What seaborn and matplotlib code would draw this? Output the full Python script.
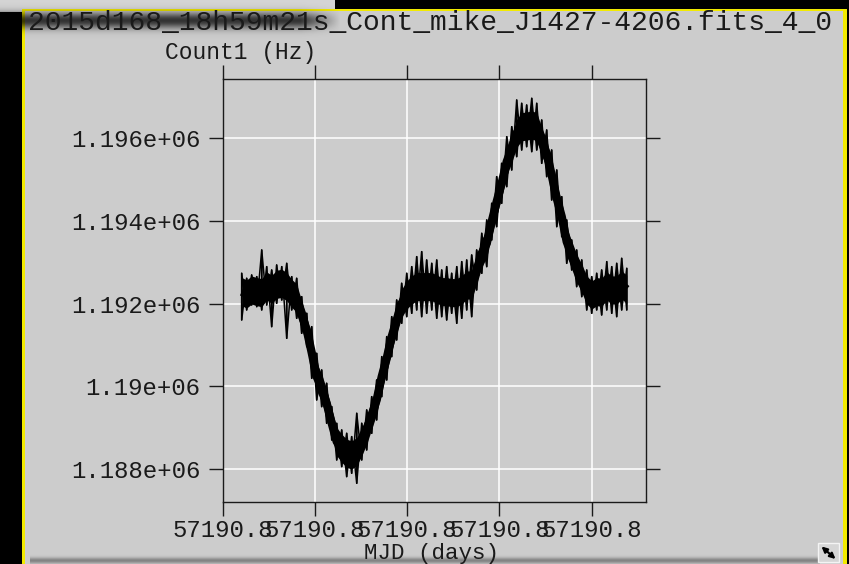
import numpy as np
import pandas as pd
import matplotlib
matplotlib.use("Agg")
import matplotlib.pyplot as plt
import seaborn as sns
from matplotlib.patches import Rectangle
from matplotlib.ticker import FixedLocator, FuncFormatter

# ---- light curve sampled along MJD ----
mjd = [
    57190.78206, 57190.78260, 57190.78314, 57190.78369, 57190.78423, 57190.78477,
    57190.78531, 57190.78585, 57190.78640, 57190.78694, 57190.78748, 57190.78802,
    57190.78856, 57190.78911, 57190.78965, 57190.79019, 57190.79073, 57190.79127,
    57190.79182, 57190.79236, 57190.79290, 57190.79344, 57190.79398, 57190.79453,
    57190.79507, 57190.79561, 57190.79615, 57190.79669, 57190.79724, 57190.79778,
    57190.79832, 57190.79886, 57190.79940, 57190.79995, 57190.80049, 57190.80103,
    57190.80157, 57190.80211, 57190.80266, 57190.80320, 57190.80374, 57190.80428,
    57190.80482, 57190.80537, 57190.80591, 57190.80645, 57190.80699, 57190.80753,
    57190.80808, 57190.80862, 57190.80916, 57190.80970, 57190.81024, 57190.81079,
    57190.81133, 57190.81187, 57190.81241, 57190.81295, 57190.81350, 57190.81404,
    57190.81458, 57190.81512, 57190.81566, 57190.81621, 57190.81675, 57190.81729,
    57190.81783, 57190.81837, 57190.81892, 57190.81946, 57190.82000, 57190.82054,
    57190.82108, 57190.82163, 57190.82217, 57190.82271, 57190.82325, 57190.82380,
]
# running level of the count rate
count_mid = [
    1192291, 1192235, 1192331, 1192291, 1192267, 1192428, 1192348, 1192468, 1192493,
    1192412, 1192251, 1192130, 1191727, 1191364, 1190816, 1190235, 1189953, 1189590,
    1189106, 1188663, 1188502, 1188381, 1188340, 1188421, 1188663, 1188945, 1189308,
    1189671, 1190235, 1190679, 1191203, 1191606, 1192009, 1192211, 1192331, 1192412,
    1192412, 1192412, 1192412, 1192356, 1192291, 1192291, 1192267, 1192267, 1192331,
    1192452, 1192452, 1192815, 1193218, 1193460, 1193984, 1194468, 1194912, 1195436,
    1195758, 1196121, 1196282, 1196298, 1196323, 1196282, 1195920, 1195637, 1195113,
    1194549, 1194105, 1193501, 1193178, 1192855, 1192614, 1192331, 1192211, 1192291,
    1192275, 1192428, 1192331, 1192331, 1192452, 1192348,
]
# highest / lowest samples around each time (noise extremes)
count_hi = [
    1192735, 1192614, 1192694, 1192654, 1193299, 1192896, 1192815, 1192936, 1192896,
    1192976, 1192654, 1192614, 1192170, 1191767, 1191444, 1190799, 1190396, 1190074,
    1189509, 1189106, 1188945, 1188864, 1188784, 1189348, 1189106, 1189429, 1189751,
    1190154, 1190719, 1191203, 1191686, 1192089, 1192493, 1192735, 1192896, 1193138,
    1193259, 1193057, 1192976, 1193057, 1192815, 1192896, 1192735, 1192896, 1193017,
    1193057, 1193178, 1193299, 1193702, 1194025, 1194428, 1195073, 1195395, 1196040,
    1196282, 1196927, 1196847, 1196806, 1196968, 1196847, 1196443, 1196202, 1195718,
    1195234, 1194589, 1194025, 1193541, 1193299, 1193057, 1192815, 1192654, 1192735,
    1192815, 1193017, 1192896, 1192976, 1193097, 1192855,
]
count_lo = [
    1191606, 1191848, 1191969, 1191928, 1191848, 1191969, 1191444, 1192009, 1192089,
    1191162, 1191848, 1191646, 1191283, 1190961, 1190195, 1189671, 1189509, 1189106,
    1188703, 1188219, 1188058, 1187816, 1187897, 1187655, 1188219, 1188461, 1188864,
    1189187, 1189751, 1190154, 1190719, 1191122, 1191525, 1191686, 1191767, 1191848,
    1191686, 1191767, 1191848, 1191646, 1191686, 1191606, 1191767, 1191525, 1191646,
    1191848, 1191686, 1192331, 1192735, 1192896, 1193541, 1193863, 1194428, 1194831,
    1195234, 1195557, 1195718, 1195798, 1195678, 1195718, 1195395, 1195073, 1194508,
    1193863, 1193621, 1192976, 1192815, 1192412, 1192170, 1191848, 1191767, 1191848,
    1191727, 1191848, 1191767, 1191686, 1191848, 1191848,
]
# typical scatter of the bulk of samples about the running level
core_spread_hz = 340

x_ticks = [57190.78, 57190.79, 57190.80, 57190.81, 57190.82]
y_ticks = [1188000, 1190000, 1192000, 1194000, 1196000]

title_text = "2015d168_18h59m21s_Cont_mike_J1427-4206.fits_4_0"
y_label = "Count1 (Hz)"
x_label = "MJD (days)"

BG = "#cccccc"
INK = "#1a1a1a"
MONO = ["Liberation Mono", "DejaVu Sans Mono"]

# two sweeps through the extremes (low->high and high->low) fill the noise band
rows = []
for t, lo, hi in zip(mjd, count_lo, count_hi):
    rows += [("a", t, lo), ("a", t, hi), ("b", t, hi), ("b", t, lo)]
df = pd.DataFrame(rows, columns=["sweep", "mjd", "count"])
df = pd.concat([df[df.sweep == "a"], df[df.sweep == "b"]], ignore_index=True)
mid_df = pd.DataFrame({"mjd": mjd, "count": count_mid})

sns.set_style("ticks", {"axes.facecolor": BG, "figure.facecolor": BG})
plt.rcParams["font.family"] = MONO

fig = plt.figure(figsize=(8.49, 5.64), dpi=100, facecolor=BG)

# window chrome, in pixel coordinates
deco = fig.add_axes([0, 0, 1, 1], zorder=-1)
deco.set_xlim(0, 849)
deco.set_ylim(564, 0)
deco.axis("off")
deco.add_patch(Rectangle((0, 0), 335, 11, color="#d4d4d4", lw=0))
deco.add_patch(Rectangle((335, 0), 514, 8.5, color="black", lw=0))
deco.add_patch(Rectangle((0, 12), 22.5, 552, color="black", lw=0))
deco.add_patch(Rectangle((22.5, 8.5), 826.5, 2.5, color="#f2ea00", lw=0))
deco.add_patch(Rectangle((22.5, 8.5), 2.8, 556, color="#f2ea00", lw=0))
deco.add_patch(Rectangle((843.5, 8.5), 3.2, 556, color="#f2ea00", lw=0))
deco.add_patch(Rectangle((846.7, 8.5), 2.3, 556, color="black", lw=0))

# blurred shadow behind the left part of the title
yy = np.arange(0, 42)[:, None]
xx = np.arange(0, 345)[None, :]
alpha = 0.75 * np.exp(-((yy - 20) / 8.0) ** 2) * np.clip((340 - xx) / 40.0, 0, 1)
shade = np.zeros((42, 345, 4))
shade[..., 3] = alpha
deco.imshow(shade, extent=(0, 345, 42, 0), interpolation="bilinear", zorder=2)

# faint blurred strip along the bottom edge
yb = np.arange(0, 10)[:, None]
xb = np.arange(0, 790)[None, :]
ab = 0.35 * np.exp(-((yb - 6) / 3.0) ** 2) * np.ones_like(xb)
strip = np.zeros((10, 790, 4))
strip[..., 3] = ab
deco.imshow(strip, extent=(30, 820, 564, 554), interpolation="bilinear", zorder=2)

# resize grip in the corner
deco.add_patch(Rectangle((818, 543), 21, 19, facecolor="#d6d6d6",
                         edgecolor="#f4f4f4", lw=1.0, zorder=3))
deco.annotate("", xy=(821.5, 546.5), xytext=(835.5, 559),
              arrowprops=dict(arrowstyle="<|-|>", color="black", lw=1.6,
                              mutation_scale=8, shrinkA=0, shrinkB=0), zorder=4)
deco.set_aspect("auto")

ax = fig.add_axes([0.2623, 0.1094, 0.4986, 0.7505])
ax.set_facecolor(BG)

# dense core of the band
mid = np.asarray(count_mid, dtype=float)
ax.fill_between(mjd, mid - core_spread_hz, mid + core_spread_hz,
                color="black", lw=0, zorder=2)
sns.lineplot(data=mid_df, x="mjd", y="count", estimator=None, sort=False,
             color="black", lw=6, solid_capstyle="butt", ax=ax, zorder=2)
# noisy extremes
sns.lineplot(data=df, x="mjd", y="count", units="sweep", estimator=None,
             sort=False, color="black", lw=1.1, ax=ax, zorder=3)

ax.set_xlim(57190.78, 57190.825886)
ax.set_ylim(1187195, 1197435)
ax.xaxis.set_major_locator(FixedLocator(x_ticks))
ax.yaxis.set_major_locator(FixedLocator(y_ticks))
fmt = FuncFormatter(lambda v, p: f"{v:g}")
ax.xaxis.set_major_formatter(fmt)
ax.yaxis.set_major_formatter(fmt)

ax.grid(True, color="white", lw=1.1)
ax.set_axisbelow(True)
for s in ax.spines.values():
    s.set_visible(True)
    s.set_color(INK)
    s.set_linewidth(1.0)
ax.tick_params(axis="both", direction="out", length=10, width=1.0, color=INK,
               top=True, right=True, labeltop=False, labelright=False,
               labelcolor=INK, labelsize=17.3)
ax.tick_params(axis="y", pad=6)
ax.tick_params(axis="x", pad=2)
ax.set_xlabel("")
ax.set_ylabel("")

fig.text(28 / 849, 1 - 23 / 564, title_text, ha="left", va="center",
         fontsize=20.2, color=INK, family=MONO)
fig.text(165 / 849, 1 - 52 / 564, y_label, ha="left", va="center",
         fontsize=16.5, color=INK, family=MONO)
fig.text(431 / 849, 1 - 553 / 564, x_label, ha="center", va="center",
         fontsize=16.2, color=INK, family=MONO)

fig.savefig("out.png", dpi=100, facecolor=BG)
